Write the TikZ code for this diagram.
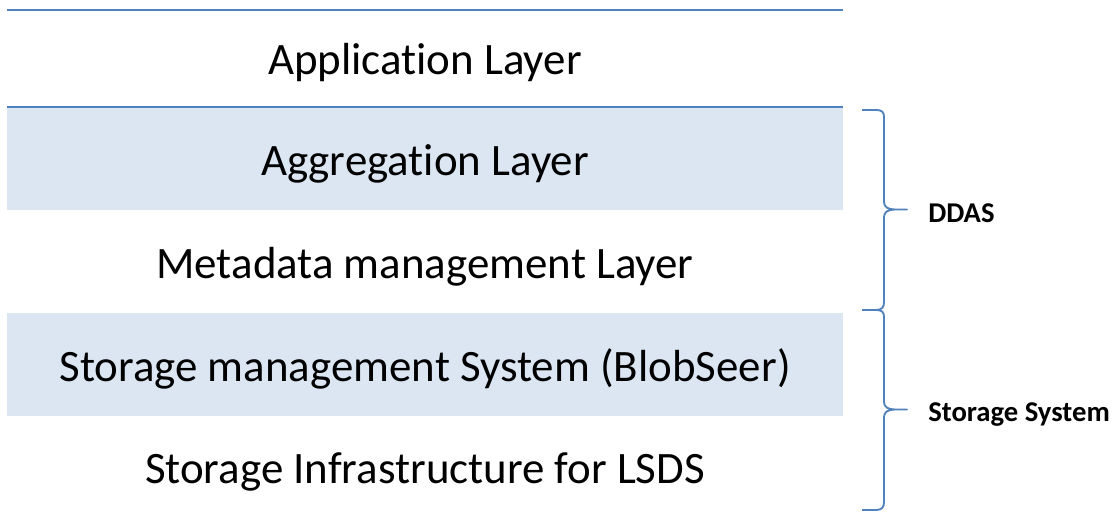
\documentclass[tikz,border=0pt]{standalone}
\usepackage{fontspec}
\setmainfont{Carlito}[Ligatures=NoCommon]
\usetikzlibrary{positioning}
\definecolor{accentblue}{RGB}{79,129,189}
\definecolor{bandfill}{RGB}{220,230,242}
\tikzset{
  layertext/.style={font=\fontsize{33.7}{40}\selectfont, inner sep=0.75pt, text height=21.8pt, text depth=0pt},
  bracelabel/.style={font=\fontsize{21.5}{26}\selectfont\bfseries, anchor=west, inner sep=0.75pt, text height=14pt, text depth=0pt},
  blueline/.style={draw=accentblue, line width=1.5pt},
  bracepath/.style={draw=accentblue, line width=1.4pt, line join=round}
}
\begin{document}
\begin{tikzpicture}[x=0.75pt,y=0.75pt,yscale=-1,xscale=1]
\useasboundingbox (0,0) rectangle (1117,514);

%Shape: Rectangle [band aggregation]
\fill [bandfill] (7,107) rectangle (843,210);
%Shape: Rectangle [band blobseer]
\fill [bandfill] (7,313) rectangle (843,416);
%Straight Lines [top]
\draw [blueline] (7,10) -- (843,10);
%Straight Lines [aggregation top]
\draw [blueline] (7,107) -- (843,107);

%Brace [ddas]
\draw [bracepath] (862,110) -- (876,110) .. controls (882,110) and (884,112) .. (884,117) -- (884,202) .. controls (884,207) and (888,209.5) .. (895,209.5) -- (907,209.5) -- (895,209.5) .. controls (888,209.5) and (884,212) .. (884,217) -- (884,302) .. controls (884,307) and (882,310) .. (876,310) -- (862,310) ;
%Brace [storage system]
\draw [bracepath] (862,310) -- (876,310) .. controls (882,310) and (884,312) .. (884,317) -- (884,402) .. controls (884,407) and (888,409.5) .. (895,409.5) -- (907,409.5) -- (895,409.5) .. controls (888,409.5) and (884,412) .. (884,417) -- (884,502) .. controls (884,507) and (882,510) .. (876,510) -- (862,510) ;

% Text Node
\node [layertext] (app) at (425,60) {Application Layer};
% Text Node
\node [layertext] (agg) at (425,161) {Aggregation Layer};
% Text Node
\node [layertext] (meta) at (425,264) {Metadata management Layer};
% Text Node
\node [layertext] (blob) at (425,367) {Storage management System (BlobSeer)};
% Text Node
\node [layertext] (infra) at (425,469) {Storage Infrastructure for LSDS};
% Text Node
\node [bracelabel] (ddas) at (927,213) {DDAS};
% Text Node
\node [bracelabel] (storsys) at (927,412) {Storage System};

\end{tikzpicture}
\end{document}
